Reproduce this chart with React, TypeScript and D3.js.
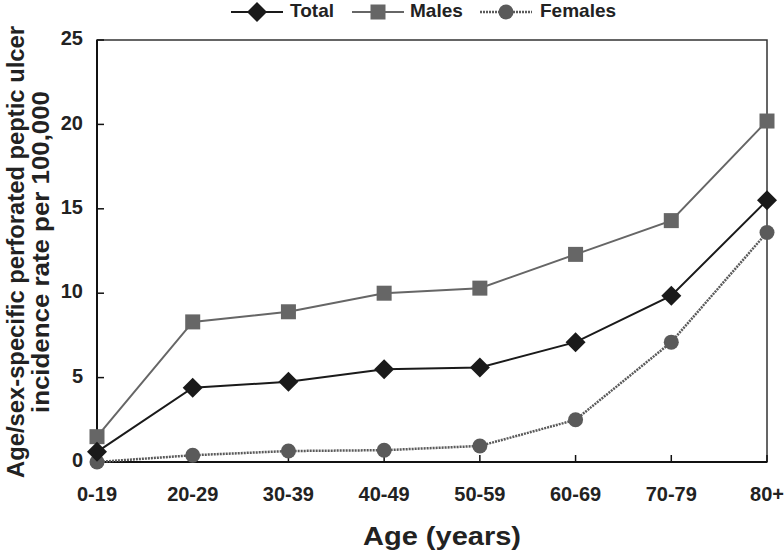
import React from "react";
import * as d3 from "d3";

const ageGroups = ["0-19", "20-29", "30-39", "40-49", "50-59", "60-69", "70-79", "80+"];
const totalRates = [0.6, 4.4, 4.75, 5.5, 5.6, 7.1, 9.85, 15.5];
const maleRates = [1.5, 8.3, 8.9, 10.0, 10.3, 12.3, 14.3, 20.2];
const femaleRates = [0.0, 0.4, 0.65, 0.7, 0.95, 2.5, 7.1, 13.6];
const yTickValues = [0, 5, 10, 15, 20, 25];

const WIDTH = 784;
const HEIGHT = 553;
const FONT = "Arial, 'Liberation Sans', sans-serif";

type Marker = "diamond" | "square" | "circle";

interface ISeries {
    name: string;
    values: number[];
    color: string;
    width: number;
    dash?: string;
    marker: Marker;
}

const series: ISeries[] = [
    { name: "Females", values: femaleRates, color: "#5a5a5a", width: 2.5, dash: "2,1", marker: "circle" },
    { name: "Males", values: maleRates, color: "#666666", width: 2, marker: "square" },
    { name: "Total", values: totalRates, color: "#1a1a1a", width: 2, marker: "diamond" },
];

function drawMarker(kind: Marker, cx: number, cy: number, color: string, key: string) {
    if (kind === "diamond") {
        const s = 10;
        return <path key={key} d={`M${cx},${cy - s}L${cx + s},${cy}L${cx},${cy + s}L${cx - s},${cy}Z`} fill={color} />;
    }
    if (kind === "square") {
        return <rect key={key} x={cx - 7.5} y={cy - 7.5} width={15} height={15} fill={color} />;
    }
    return <circle key={key} cx={cx} cy={cy} r={7.5} fill={color} />;
}

export default function App() {
    const margin = { top: 40, right: 17, bottom: 91, left: 97 };

    const x = d3.scalePoint<string>()
        .domain(ageGroups)
        .range([margin.left, WIDTH - margin.right]);

    const y = d3.scaleLinear([0, 25], [HEIGHT - margin.bottom, margin.top]);

    const line = d3.line<number>()
        .x((d, i) => x(ageGroups[i])!)
        .y((d) => y(d));

    // legend positions
    const legendItems = [
        { s: series[2], x0: 231, tx: 290 },
        { s: series[1], x0: 352, tx: 410 },
        { s: series[0], x0: 480, tx: 540 },
    ];

    const bottom = y(0);
    const right = WIDTH - margin.right;

    return <svg width={WIDTH} height={HEIGHT} style={{ position: "absolute", left: 0, top: 0, background: "white" }}
        fontFamily={FONT} fontWeight="bold">

        {/* frame */}
        <rect x={margin.left} y={margin.top} width={right - margin.left} height={bottom - margin.top}
            fill="none" stroke="#333" strokeWidth={1.5} />
        <line x1={margin.left} x2={margin.left} y1={margin.top} y2={bottom} stroke="#111" strokeWidth={2} />
        <line x1={margin.left} x2={right} y1={bottom} y2={bottom} stroke="#111" strokeWidth={2} />

        <g name="yTicks">
            {yTickValues.map((t) => (
                <g key={t}>
                    <line x1={margin.left} x2={margin.left + 7} y1={y(t)} y2={y(t)} stroke="#111" strokeWidth={1.5} />
                    <text x={margin.left - 14} y={y(t)} dominantBaseline="middle" textAnchor="end" fontSize={20}
                        fill="#222">{t}</text>
                </g>
            ))}
        </g>

        <g name="xTicks">
            {ageGroups.map((g) => (
                <g key={g}>
                    <line x1={x(g)} x2={x(g)} y1={bottom} y2={bottom - 7} stroke="#111" strokeWidth={1.5} />
                    <text x={x(g)} y={bottom + 39} textAnchor="middle" fontSize={20} fill="#222">{g}</text>
                </g>
            ))}
        </g>

        <text x={442} y={545} textAnchor="middle" fontSize={25} fill="#222"
            textLength={158} lengthAdjust="spacingAndGlyphs">Age (years)</text>

        <g transform="translate(18,252) rotate(-90)">
            <text x={0} y={0} textAnchor="middle" dominantBaseline="middle" fontSize={23} fill="#222"
                textLength={452} lengthAdjust="spacingAndGlyphs">
                Age/sex-specific perforated peptic ulcer
            </text>
            <text x={0} y={25} textAnchor="middle" dominantBaseline="middle" fontSize={23} fill="#222"
                textLength={322} lengthAdjust="spacingAndGlyphs">
                incidence rate per 100,000
            </text>
        </g>

        {series.map((s) => (
            <g key={s.name}>
                <path d={line(s.values)!} fill="none" stroke={s.color} strokeWidth={s.width}
                    strokeDasharray={s.dash} />
                {s.values.map((v, i) => drawMarker(s.marker, x(ageGroups[i])!, y(v), s.color, s.name + i))}
            </g>
        ))}

        <g name="legend">
            {legendItems.map(({ s, x0, tx }) => (
                <g key={s.name}>
                    <line x1={x0} x2={x0 + 52} y1={12} y2={12} stroke={s.color} strokeWidth={s.width}
                        strokeDasharray={s.dash} />
                    {drawMarker(s.marker, x0 + 26, 12, s.color, "lg" + s.name)}
                    <text x={tx} y={12} dominantBaseline="middle" fontSize={19} fill="#222">{s.name}</text>
                </g>
            ))}
        </g>
    </svg>;
}
